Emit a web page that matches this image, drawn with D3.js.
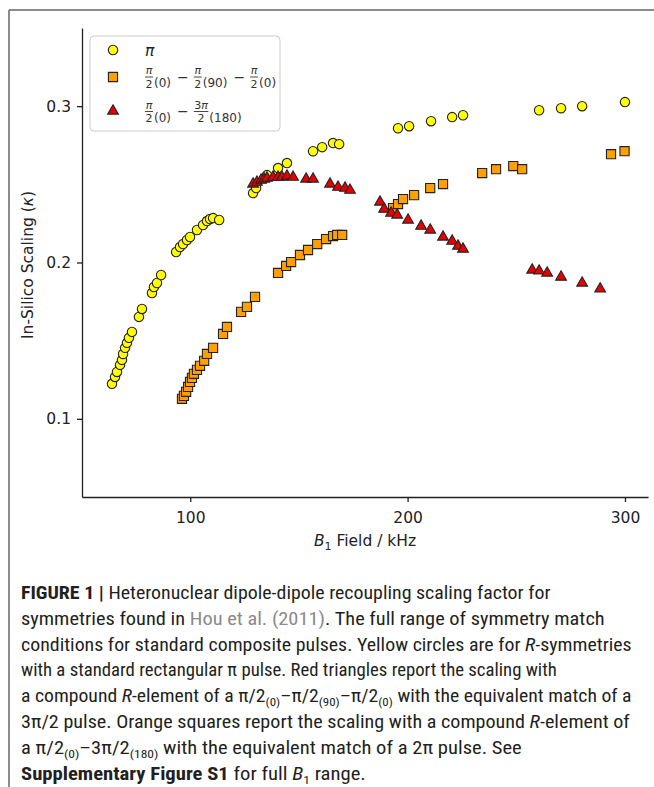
<!DOCTYPE html>
<html>
<head>
<meta charset="utf-8">
<script src="https://cdn.jsdelivr.net/npm/d3@7"></script>
<style>
  body { margin: 0; background: #fff; }
  svg { display: block; }
  .axis path, .axis line { stroke: #222; stroke-width: 1.3; }
  .axis text { font-family: "DejaVu Sans", sans-serif; font-size: 15.5px; fill: #222; }
</style>
</head>
<body>
<svg id="chart" width="654" height="787"></svg>
<script>
// yellow circles: standard pi pulse
const piField = [64.0, 65.4, 66.3, 67.7, 68.6, 69.1, 70.0, 70.9, 71.8, 73.2, 76.4, 77.8, 82.4, 83.3, 84.7, 86.6,
  93.5, 95.3, 96.7, 98.5, 99.9, 103.1, 105.9, 107.7, 109.1, 110.5, 113.3,
  128.9, 130.3, 135.3, 140.4, 144.5, 156.5, 160.7, 165.7, 168.5, 195.6, 200.7, 210.8, 220.5, 225.5,
  260.5, 270.6, 280.3, 300.0];
const piScaling = [0.1224, 0.1268, 0.1300, 0.1345, 0.1377, 0.1415, 0.1454, 0.1486, 0.1518, 0.1556, 0.1652, 0.1703, 0.1805, 0.1843, 0.1869, 0.1920,
  0.2067, 0.2099, 0.2118, 0.2144, 0.2163, 0.2208, 0.2240, 0.2265, 0.2278, 0.2284, 0.2272,
  0.2444, 0.2476, 0.2559, 0.2604, 0.2636, 0.2712, 0.2738, 0.2764, 0.2757, 0.2859, 0.2872, 0.2904, 0.2930, 0.2942,
  0.2974, 0.2987, 0.3000, 0.3026];

// orange squares: pi/2(0) - pi/2(90) - pi/2(0)
const tripleField = [96.2, 97.1, 98.1, 99.0, 99.9, 100.8, 101.7, 103.1, 104.5, 106.4, 107.7, 110.5, 115.1, 116.9, 123.4, 126.1, 129.8,
  140.4, 144.1, 146.4, 150.5, 154.2, 158.4, 162.5, 165.7, 167.6, 169.9,
  193.3, 195.6, 197.9, 203.0, 210.4, 216.3, 234.3, 240.7, 248.6, 252.7, 293.6, 299.8];
const tripleScaling = [0.1128, 0.1147, 0.1173, 0.1204, 0.1236, 0.1262, 0.1288, 0.1313, 0.1339, 0.1371, 0.1415, 0.1454, 0.1543, 0.1588, 0.1684, 0.1716, 0.1780,
  0.1933, 0.1978, 0.2003, 0.2048, 0.2080, 0.2118, 0.2150, 0.2169, 0.2176, 0.2176,
  0.2348, 0.2374, 0.2406, 0.2431, 0.2476, 0.2502, 0.2572, 0.2597, 0.2617, 0.2597, 0.2693, 0.2712];

// red triangles: pi/2(0) - 3pi/2(180)
const pairField = [128.9, 130.7, 132.6, 134.0, 135.3, 138.1, 140.4, 142.2, 144.5, 147.3, 153.3, 156.5, 164.3, 168.0, 171.2, 173.5,
  187.3, 189.2, 192.4, 195.2, 200.2, 206.2, 210.4, 216.3, 220.5, 223.2, 225.5,
  257.3, 260.5, 264.2, 270.6, 280.3, 288.6];
const pairScaling = [0.2502, 0.2514, 0.2527, 0.2534, 0.2540, 0.2546, 0.2546, 0.2546, 0.2553, 0.2546, 0.2534, 0.2534, 0.2502, 0.2482, 0.2476, 0.2463,
  0.2387, 0.2342, 0.2316, 0.2304, 0.2272, 0.2233, 0.2208, 0.2163, 0.2137, 0.2105, 0.2086,
  0.1952, 0.1946, 0.1933, 0.1907, 0.1869, 0.1831];

const xTicks = [100, 200, 300];
const yTicks = [0.1, 0.2, 0.3];

const captionLines = [
  [["FIGURE 1 | ", "b"], ["Heteronuclear dipole-dipole recoupling scaling factor for", ""]],
  [["symmetries found in ", ""], ["Hou et al. (2011)", "g"], [". The full range of symmetry match", ""]],
  [["conditions for standard composite pulses. Yellow circles are for ", ""], ["R", "i"], ["-symmetries", ""]],
  [["with a standard rectangular π pulse. Red triangles report the scaling with", ""]],
  [["a compound ", ""], ["R", "i"], ["-element of a π/2", ""], ["(0)", "s"], ["–π/2", ""], ["(90)", "s"], ["–π/2", ""], ["(0)", "s"], [" with the equivalent match of a", ""]],
  [["3π/2 pulse. Orange squares report the scaling with a compound ", ""], ["R", "i"], ["-element of", ""]],
  [["a π/2", ""], ["(0)", "s"], ["–3π/2", ""], ["(180)", "s"], [" with the equivalent match of a 2π pulse. See", ""]],
  [["Supplementary Figure S1", "b"], [" for full ", ""], ["B", "i"], ["1", "s"], [" range.", ""]]
];
const captionEnds = [551, 605, 632, 557, 632, 630, 522, 366];

const svg = d3.select("#chart");

// page frame
svg.append("line").attr("x1", 9).attr("y1", 10).attr("x2", 654).attr("y2", 10)
  .attr("stroke", "#666").attr("stroke-width", 1.5);
svg.append("line").attr("x1", 9).attr("y1", 10).attr("x2", 9).attr("y2", 787)
  .attr("stroke", "#666").attr("stroke-width", 1.5);

// scales
const x = d3.scaleLinear().domain([50.2, 310.6]).range([82, 648]);
const y = d3.scaleLinear().domain([0.05, 0.35]).range([497, 28]);

svg.append("g")
  .attr("class", "axis")
  .attr("transform", "translate(0,497)")
  .call(d3.axisBottom(x).tickValues(xTicks).tickSize(5).tickPadding(10).tickSizeOuter(0));

svg.append("g")
  .attr("class", "axis")
  .attr("transform", "translate(82,0)")
  .call(d3.axisLeft(y).tickValues(yTicks).tickFormat(d3.format(".1f")).tickSize(5).tickPadding(6).tickSizeOuter(0));

// axis labels
const xLab = svg.append("text")
  .attr("x", 365).attr("y", 546)
  .attr("text-anchor", "middle")
  .attr("font-family", "DejaVu Sans, sans-serif")
  .attr("font-size", 15.5).attr("fill", "#222");
xLab.append("tspan").attr("font-style", "italic").text("B");
xLab.append("tspan").attr("font-size", 11).attr("dy", 4).text("1");
xLab.append("tspan").attr("dy", -4).text(" Field / kHz");

const yLab = svg.append("text")
  .attr("transform", "translate(33,265) rotate(-90)")
  .attr("text-anchor", "middle")
  .attr("font-family", "DejaVu Sans, sans-serif")
  .attr("font-size", 15.5).attr("fill", "#222");
yLab.append("tspan").text("In-Silico Scaling (");
yLab.append("tspan").attr("font-style", "italic").text("κ");
yLab.append("tspan").text(")");

// markers
const edge = "#222";
const toPoints = (xs, ys) => xs.map((d, i) => [d, ys[i]]);

svg.append("g").selectAll("circle")
  .data(toPoints(piField, piScaling))
  .join("circle")
  .attr("cx", d => x(d[0])).attr("cy", d => y(d[1])).attr("r", 4.7)
  .attr("fill", "#ffff00").attr("stroke", edge).attr("stroke-width", 1.1);

const squareSym = d3.symbol().type(d3.symbolSquare).size(84);
svg.append("g").selectAll("path")
  .data(toPoints(tripleField, tripleScaling))
  .join("path")
  .attr("transform", d => `translate(${x(d[0])},${y(d[1])})`)
  .attr("d", squareSym)
  .attr("fill", "#ffa000").attr("stroke", edge).attr("stroke-width", 1.1);

const triSym = d3.symbol().type(d3.symbolTriangle).size(50);
svg.append("g").selectAll("path")
  .data(toPoints(pairField, pairScaling))
  .join("path")
  .attr("transform", d => `translate(${x(d[0])},${y(d[1])})`)
  .attr("d", triSym)
  .attr("fill", "#e80000").attr("stroke", edge).attr("stroke-width", 1.1);

// legend
const legend = svg.append("g");
legend.append("rect")
  .attr("x", 90).attr("y", 36).attr("width", 190).attr("height", 95).attr("rx", 4)
  .attr("fill", "#fff").attr("fill-opacity", 0.85)
  .attr("stroke", "#ccc").attr("stroke-width", 1);

legend.append("circle").attr("cx", 113).attr("cy", 50).attr("r", 4.7)
  .attr("fill", "#ffff00").attr("stroke", edge).attr("stroke-width", 1.1);
legend.append("path").attr("transform", "translate(113,77)").attr("d", squareSym)
  .attr("fill", "#ffa000").attr("stroke", edge).attr("stroke-width", 1.1);
legend.append("path").attr("transform", "translate(113,111)").attr("d", triSym)
  .attr("fill", "#e80000").attr("stroke", edge).attr("stroke-width", 1.1);

legend.append("text").attr("x", 145).attr("y", 56)
  .attr("font-family", "DejaVu Sans, sans-serif").attr("font-size", 15.5)
  .attr("font-style", "italic").attr("fill", "#222").text("π");

function mathText(sel, str) {
  str.split(/(π)/).filter(s => s.length).forEach(s => {
    const t = sel.append("tspan").text(s);
    if (s === "π") t.attr("font-style", "italic");
  });
}

function drawMath(g, x0, bar, parts) {
  let cx = x0;
  const base = t => t.attr("font-family", "DejaVu Sans, sans-serif").attr("fill", "#333");
  parts.forEach(p => {
    if (p[0] === "frac") {
      const num = base(g.append("text")).attr("font-size", 11).attr("text-anchor", "middle");
      mathText(num, p[1]);
      const den = base(g.append("text")).attr("font-size", 11).attr("text-anchor", "middle");
      mathText(den, p[2]);
      const w = Math.max(num.node().getComputedTextLength(), den.node().getComputedTextLength()) + 1;
      num.attr("x", cx + w / 2).attr("y", bar - 3);
      den.attr("x", cx + w / 2).attr("y", bar + 10.5);
      g.append("line").attr("x1", cx).attr("x2", cx + w).attr("y1", bar).attr("y2", bar)
        .attr("stroke", "#333").attr("stroke-width", 0.9);
      cx += w + 1;
    } else if (p[0] === "sub") {
      const t = base(g.append("text")).attr("font-size", 12).attr("x", cx).attr("y", bar + 10).text(p[1]);
      cx += t.node().getComputedTextLength() + 6;
    } else {
      const t = base(g.append("text")).attr("font-size", 14).attr("x", cx).attr("y", bar + 4.5).text(p[1]);
      cx += t.node().getComputedTextLength() + 5;
    }
  });
}

drawMath(legend, 145, 77, [["frac", "π", "2"], ["sub", "(0)"], ["op", "−"], ["frac", "π", "2"], ["sub", "(90)"],
  ["op", "−"], ["frac", "π", "2"], ["sub", "(0)"]]);
drawMath(legend, 145, 111.5, [["frac", "π", "2"], ["sub", "(0)"], ["op", "−"], ["frac", "3π", "2"], ["sub", "(180)"]]);

// caption
captionLines.forEach((line, i) => {
  const t = svg.append("text")
    .attr("font-family", "Liberation Sans Narrow, Roboto Condensed, Liberation Sans, sans-serif")
    .attr("font-size", 17.5).attr("fill", "#231f20");
  let shift = 0;
  line.forEach(([s, style]) => {
    const sp = t.append("tspan").text(s);
    const want = style === "s" ? 4 : 0;
    if (want !== shift) { sp.attr("dy", want - shift); shift = want; }
    if (style === "b") sp.attr("font-weight", "bold");
    if (style === "i") sp.attr("font-style", "italic");
    if (style === "g") sp.attr("fill", "#8a8a8a");
    if (style === "s") sp.attr("font-size", 11.5);
  });
  const w = t.node().getComputedTextLength();
  const sx = (captionEnds[i] - 21) / w;
  t.attr("transform", `translate(21,${599 + i * 25.8}) scale(${sx},1)`);
});
</script>
</body>
</html>
